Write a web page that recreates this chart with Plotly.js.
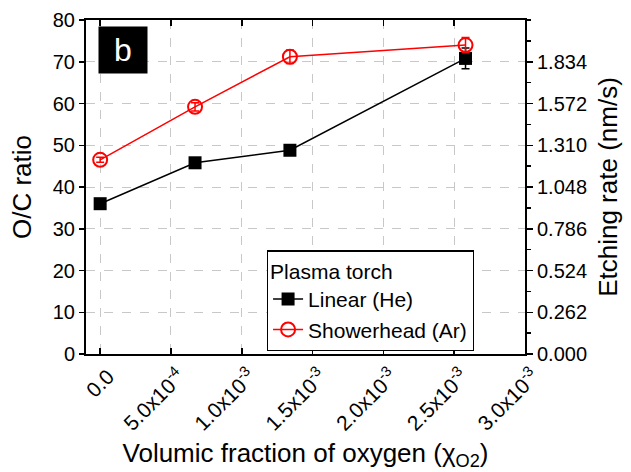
<!DOCTYPE html>
<html>
<head>
<meta charset="utf-8">
<script src="https://cdn.plot.ly/plotly-3.0.1.min.js"></script>
<style>html,body{margin:0;padding:0;background:#fff;}#chart{width:631px;height:472px;}</style>
</head>
<body>
<div id="chart"></div>
<script>
const xLinear = [0, 0.00067, 0.00134, 0.00258];
const yLinear = [36, 45.8, 48.8, 70.8];
const errLinear = [0.6, 0.6, 0.8, 2.5];
const xShower = [0, 0.00067, 0.00134, 0.00258];
const yShower = [46.5, 59.2, 71.2, 74.0];
const errShower = [0.6, 1.0, 1.6, 1.8];
const xTickVals = [0, 0.0005, 0.001, 0.0015, 0.002, 0.0025, 0.003];
const xTickText = ['0.0', '5.0x10<sup>-4</sup>', '1.0x10<sup>-3</sup>', '1.5x10<sup>-3</sup>', '2.0x10<sup>-3</sup>', '2.5x10<sup>-3</sup>', '3.0x10<sup>-3</sup>'];
const yTickVals = [0, 10, 20, 30, 40, 50, 60, 70, 80];
const rightTickVals = [0, 10, 20, 30, 40, 50, 60, 70];
const rightTickText = ['0.000', '0.262', '0.524', '0.786', '1.048', '1.310', '1.572', '1.834'];

const FONT = 'Liberation Sans, Arial, sans-serif';

const traces = [
  {
    x: xLinear, y: yLinear, name: 'Linear (He)', type: 'scatter', mode: 'lines+markers',
    line: {color: '#000', width: 1.5},
    marker: {symbol: 'square', size: 13, color: '#000'},
    error_y: {type: 'data', array: errLinear, visible: true, color: '#000', thickness: 1.5, width: 4}
  },
  {
    x: xShower, y: yShower, name: 'Showerhead (Ar)', type: 'scatter', mode: 'lines+markers',
    line: {color: '#ff0000', width: 1.5},
    marker: {symbol: 'circle-open', size: 14, color: '#ff0000', line: {width: 2, color: '#ff0000'}},
    error_y: {type: 'data', array: errShower, visible: true, color: '#ff0000', thickness: 1.5, width: 4}
  },
  {
    x: [0], y: [0], yaxis: 'y2', showlegend: false, hoverinfo: 'skip',
    mode: 'markers', marker: {opacity: 0}
  }
];

const layout = {
  width: 631, height: 472,
  margin: {l: 86, r: 106, t: 20, b: 118},
  paper_bgcolor: '#fff', plot_bgcolor: '#fff',
  font: {family: FONT, color: '#000', size: 20},
  showlegend: true,
  xaxis: {
    range: [-0.0001, 0.003],
    tickmode: 'array', tickvals: xTickVals, ticktext: xTickText,
    tickangle: -45, tickfont: {size: 21}, ticklabelshift: 8,
    ticks: 'inside', ticklen: 6, tickwidth: 1.5, tickcolor: '#000',
    showline: true, linecolor: '#000', linewidth: 2, mirror: 'ticks',
    showgrid: true, gridcolor: '#c8c8c8', griddash: 'dash', gridwidth: 1,
    zeroline: false,
    title: {text: 'Volumic fraction of oxygen (χ<sub>O2</sub>)', font: {size: 26}, standoff: 10}
  },
  yaxis: {
    range: [0, 80],
    tickmode: 'array', tickvals: yTickVals,
    ticks: 'outside', ticklen: 5, tickwidth: 1.5, tickcolor: '#000',
    showline: true, linecolor: '#000', linewidth: 2,
    showgrid: true, gridcolor: '#c8c8c8', griddash: 'dash', gridwidth: 1,
    zeroline: false,
    title: {text: 'O/C ratio', font: {size: 26}, standoff: 14}
  },
  yaxis2: {
    overlaying: 'y', side: 'right', range: [0, 80],
    tickmode: 'array', tickvals: rightTickVals, ticktext: rightTickText,
    ticks: 'outside', ticklen: 6, tickwidth: 1.5, tickcolor: '#000',
    minor: {tickmode: 'linear', tick0: 0, dtick: 5, ticks: 'outside', ticklen: 4, tickwidth: 1.5, tickcolor: '#000', showgrid: false},
    showline: true, linecolor: '#000', linewidth: 2,
    showgrid: false, zeroline: false,
    title: {text: 'Etching rate (nm/s)', font: {size: 26}, standoff: 13}
  },
  legend: {
    x: 0.412, y: 0.31, xanchor: 'left', yanchor: 'top',
    bgcolor: '#fff', bordercolor: '#000', borderwidth: 1.2,
    font: {size: 21, family: FONT},
    title: {text: 'Plasma torch', font: {size: 21, family: FONT}},
    tracegroupgap: 0, itemwidth: 30
  },
  annotations: [{
    xref: 'paper', yref: 'paper', x: 0.084, y: 0.91, xanchor: 'center', yanchor: 'middle',
    text: 'b', showarrow: false, bgcolor: '#000', width: 46, height: 44,
    font: {color: '#fff', size: 32, family: FONT}
  }]
};

Plotly.newPlot('chart', traces, layout, {displayModeBar: false, staticPlot: true});
</script>
</body>
</html>
